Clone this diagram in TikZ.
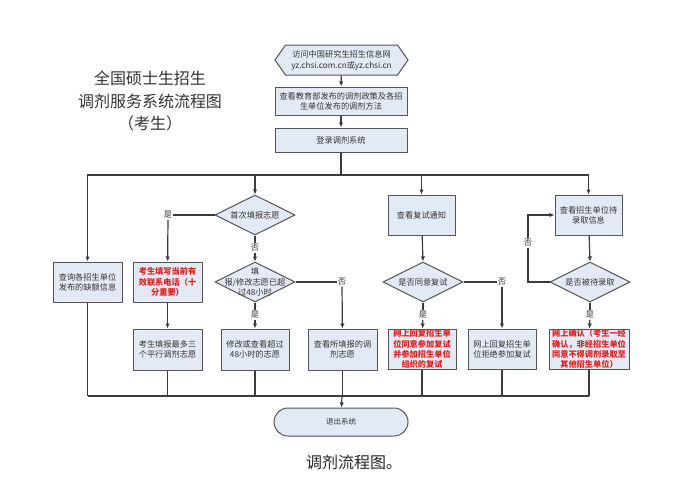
\documentclass[tikz,border=0pt]{standalone}
\usepackage{fontspec}
\setmainfont{Noto Sans CJK SC}
\usetikzlibrary{shapes.geometric,shapes.symbols,arrows.meta}
\definecolor{boxfill}{HTML}{E4EAF5}
\definecolor{boxline}{HTML}{555555}
\definecolor{linec}{HTML}{3C3C3C}
\definecolor{redtxt}{HTML}{E0201E}
\definecolor{txt}{HTML}{333333}
\tikzset{
  box/.style={draw=boxline,fill=boxfill,line width=1pt,inner sep=0pt,align=center,
    font=\fontsize{8.2}{10.2}\selectfont,text=txt},
  redbox/.style={box,text=redtxt,font=\fontsize{8.2}{10.2}\selectfont\bfseries},
  dia/.style={draw=boxline,fill=boxfill,line width=1pt,diamond,inner sep=0pt,
    minimum width=80pt,minimum height=40pt},
  dtext/.style={align=center,font=\fontsize{8.2}{10.2}\selectfont,text=txt,inner sep=0pt},
  lbl/.style={fill=white,inner sep=1pt,font=\fontsize{8.2}{10}\selectfont,text=txt},
  conn/.style={draw=linec,line width=1.2pt},
  arr/.style={conn,-{Latex[length=5pt,width=4.5pt]}},
}
\begin{document}
\begin{tikzpicture}[x=1pt,y=-1pt]
\useasboundingbox[fill=white] (0,0) rectangle (681,493);
% title
\node[font=\fontsize{16}{20}\selectfont,text=black!80] (t1) at (150,78) {全国硕士生招生};
\node[font=\fontsize{16}{20}\selectfont,text=black!80] (t2) at (150,101) {调剂服务系统流程图};
\node[font=\fontsize{16}{20}\selectfont,text=black!80] (t3) at (150,123) {（考生）};
% top
\node[draw=boxline,fill=boxfill,line width=1pt,signal,signal to=west and east,signal pointer angle=110,
  minimum width=133pt,minimum height=30pt,inner sep=0pt,align=center,
  font=\fontsize{8.2}{11}\selectfont,text=txt] (hex) at (341.5,60)
  {访问中国研究生招生信息网\\yz.chsi.com.cn或yz.chsi.cn};
\node[box,minimum width=132pt,minimum height=28pt] (b1) at (341,101)
  {查看教育部发布的调剂政策及各招\\生单位发布的调剂方法};
\node[box,minimum width=132pt,minimum height=24pt] (b2) at (341,140) {登录调剂系统};
% row 2
\node[box,minimum width=69pt,minimum height=40pt] (L) at (87.5,282) {查询各招生单位\\发布的缺额信息};
\node[redbox,minimum width=69pt,minimum height=40pt] (red1) at (167.5,282) {考生填写当前有\\效联系电话（十\\分重要）};
\node[dia] (dia1) at (255,215) {};
\node[dtext] (dt1) at (dia1) {首次填报志愿};
\node[dia] (dia2) at (255,282) {};
\node[dtext] (dt2) at (dia2) {填\\报/修改志愿已超\\过48小时};
\node[box,minimum width=69pt,minimum height=41pt] (m1) at (167.5,349.5) {考生填报最多三\\个平行调剂志愿};
\node[box,minimum width=68pt,minimum height=41pt] (m2) at (255,349.5) {修改或查看超过\\48小时的志愿};
\node[box,minimum width=69pt,minimum height=41pt] (m3) at (342.5,349.5) {查看所填报的调\\剂志愿};
\node[box,minimum width=67pt,minimum height=40pt] (fs) at (421.5,215) {查看复试通知};
\node[dia] (dia3) at (423,282) {};
\node[dtext] (dt3) at (dia3) {是否同意复试};
\node[redbox,minimum width=68pt,minimum height=40pt] (red2) at (422,349) {网上回复招生单\\位同意参加复试\\并参加招生单位\\组织的复试};
\node[box,minimum width=68pt,minimum height=40pt] (r2) at (502,349) {网上回复招生单\\位拒绝参加复试};
\node[box,minimum width=67pt,minimum height=40pt] (dl) at (588.5,215) {查看招生单位待\\录取信息};
\node[dia] (dia4) at (590,282) {};
\node[dtext] (dt4) at (dia4) {是否被待录取};
\node[redbox,minimum width=80pt,minimum height=40pt] (red3) at (589,349) {网上确认（考生一经\\确认，非经招生单位\\同意不得调剂录取至\\其他招生单位）};
\node[box,rounded corners=14pt,minimum width=134pt,minimum height=28pt,font=\fontsize{7.5}{9}\selectfont] (exit) at (341,422) {退出系统};
\node[font=\fontsize{16}{20}\selectfont,text=black!85] (cap) at (354,462) {调剂流程图。};
% labels
\node[lbl] (yes1) at (168,215) {是};
\node[lbl] (no1) at (255,248) {否};
\node[lbl] (no2) at (342,282) {否};
\node[lbl] (yes2) at (255,315) {是};
\node[lbl] (no3) at (502,282) {否};
\node[lbl] (yes3) at (423,315) {是};
\node[lbl] (no4) at (528,243) {否};
\node[lbl] (yes4) at (590,315) {是};
% connectors
\draw[arr] (hex) -- (b1);
\draw[arr] (b1) -- (b2);
\coordinate (jt) at (341,175);
\draw[conn] (b2) -- (jt);
\draw[arr] (jt) -| (L);
\draw[arr] (jt) -| (dia1);
\draw[arr] (jt) -| (fs);
\draw[arr] (jt) -| (dl);
\draw[conn] (dia1.west) -- (yes1);
\draw[arr] (yes1) -- (red1);
\draw[conn] (dia1.south) -- (no1);
\draw[arr] (no1) -- (dia2.north);
\draw[conn] (dia2.east) -- (no2);
\draw[arr] (no2) -- (m3);
\draw[conn] (dia2.south) -- (yes2);
\draw[arr] (yes2) -- (m2);
\draw[arr] (red1) -- (m1);
\draw[arr] (fs) -- (dia3.north);
\draw[conn] (dia3.east) -- (no3);
\draw[arr] (no3) -- (r2);
\draw[conn] (dia3.south) -- (yes3);
\draw[arr] (yes3) -- (red2);
\draw[arr] (dl) -- (dia4.north);
\coordinate (c1) at (528,282);
\coordinate (c2) at (528,215);
\draw[conn] (dia4.west) -- (c1) -- (no4);
\draw[arr] (no4) -- (c2) -- (dl.west);
\draw[conn] (dia4.south) -- (yes4);
\draw[arr] (yes4) -- (red3);
% bottom
\coordinate (jb) at (342,396);
\foreach \n in {L,m1,m2,m3,red2,r2,red3} {\draw[conn] (\n.south) -- (\n.south |- jb);}
\draw[conn] (L.south |- jb) -- (red3.south |- jb);
\draw[arr] (jb) -- (exit);
\end{tikzpicture}
\end{document}
